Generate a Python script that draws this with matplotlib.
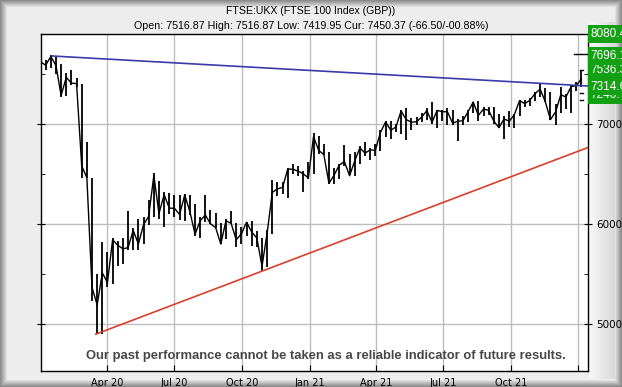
import matplotlib
matplotlib.use("Agg")
import matplotlib.pyplot as plt
import matplotlib.transforms as mtransforms
import numpy as np
import pandas as pd

# weekly bars, FTSE 100, week ending Fridays from 3 Jan 2020
week_end = pd.date_range("2020-01-03", periods=106, freq="W-FRI")

high = [7650, 7640, 7690, 7680, 7600, 7510, 7540, 7460, 7404, 6820,
        6460, 5500, 5820, 5720, 5860, 5830, 5860, 6130, 5960, 6050,
        6070, 6240, 6510, 6430, 6320, 6310, 6290, 6290, 6300, 6290,
        6200, 6070, 6290, 6140, 6110, 6010, 6050, 6130, 6010, 5970,
        6020, 6030, 5930, 5860, 5940, 6440, 6420, 6420, 6560, 6600,
        6580, 6530, 6620, 6910, 6880, 6800, 6720, 6560, 6600, 6790,
        6700, 6720, 6780, 6820, 6760, 6800, 6940, 7030, 7030, 7000,
        7140, 7160, 7060, 7070, 7110, 7160, 7220, 7140, 7140, 7160,
        7140, 7050, 7080, 7140, 7220, 7230, 7170, 7170, 7170, 7100,
        7080, 7130, 7100, 7240, 7240, 7260, 7320, 7410, 7360, 7320,
        7200, 7370, 7300, 7390, 7420, 7530]
low = [7560, 7540, 7560, 7500, 7270, 7280, 7390, 7370, 6460, 6460,
       5230, 4898, 4900, 5370, 5400, 5580, 5600, 5740, 5740, 5740,
       5800, 5990, 6070, 6050, 5970, 6100, 6070, 6040, 6030, 6090,
       5880, 5860, 6020, 6000, 5960, 5800, 5850, 6000, 5770, 5800,
       5880, 5780, 5770, 5530, 5570, 5900, 6280, 6300, 6260, 6500,
       6480, 6320, 6450, 6500, 6700, 6690, 6400, 6400, 6450, 6580,
       6490, 6480, 6600, 6680, 6640, 6680, 6730, 6870, 6850, 6920,
       6900, 6840, 6940, 6990, 7020, 7040, 7000, 6960, 7030, 6990,
       6990, 6830, 6990, 7020, 7110, 7030, 7080, 7090, 7000, 6960,
       6850, 6970, 6960, 7080, 7170, 7180, 7230, 7270, 7220, 7040,
       6990, 7110, 7150, 7110, 7330, 7370]
close = [7622, 7588, 7675, 7586, 7286, 7466, 7409, 7404, 6581, 6463,
         5366, 5191, 5510, 5416, 5843, 5787, 5752, 5763, 5936, 5800,
         5993, 6077, 6484, 6105, 6293, 6159, 6157, 6095, 6290, 6123,
         5898, 6032, 6090, 6002, 5964, 5800, 6032, 6007, 5843, 5902,
         6017, 5920, 5860, 5577, 5910, 6316, 6351, 6367, 6550, 6547,
         6529, 6502, 6461, 6873, 6736, 6695, 6407, 6489, 6589, 6624,
         6483, 6631, 6761, 6709, 6741, 6737, 6916, 7020, 6938, 6970,
         7130, 7044, 7018, 7023, 7069, 7134, 7017, 7136, 7123, 7122,
         7008, 7028, 7032, 7123, 7219, 7087, 7148, 7138, 7029, 6963,
         7051, 7027, 7095, 7234, 7204, 7237, 7304, 7348, 7223, 7044,
         7122, 7292, 7270, 7373, 7385, 7450]

support_dates = ["2020-03-16", "2022-01-14"]
support_values = [4898, 6765]
resist_dates = ["2020-01-17", "2022-01-14"]
resist_values = [7680, 7380]

# price levels on the right, drawn bottom to top of the stack
levels = [7240.7, 7450.3, 7314.6, 7536.3, 7696.1, 8080.4]
level_colors = ["#14a014", "#000000", "#14a014", "#14a014", "#14a014", "#14a014"]
level_nudge_px = [4.5, 0, 6, 0, -1.6, 0]

tick_dates = ["2020-04-01", "2020-07-01", "2020-10-01", "2021-01-01",
              "2021-04-01", "2021-07-01", "2021-10-01", "2022-01-01"]
tick_labels = ["Apr 20", "Jul 20", "Oct 20", "Jan 21", "Apr 21", "Jul 21", "Oct 21", ""]

title = "FTSE:UKX (FTSE 100 Index (GBP))"
subtitle = "Open: 7516.87 High: 7516.87 Low: 7419.95 Cur: 7450.37 (-66.50/-00.88%)"
disclaimer = "Our past performance cannot be taken as a reliable indicator of future results."

W, H = 622, 387
YMIN, YMAX = 4530, 7900
fig = plt.figure(figsize=(W / 100, H / 100), dpi=100)

# bevelled grey frame behind everything
bg = fig.add_axes([0, 0, 1, 1], zorder=0)
yy, xx = np.mgrid[0:H, 0:W]
d = np.minimum.reduce([xx, yy, W - 1 - xx, H - 1 - yy]).astype(float)
shade = np.where(d < 7, 0.55 + 0.38 * d / 7, 0.93)
panel = (xx >= 589) & (xx <= 614) & (yy >= 22) & (yy <= 378)
shade = np.where(panel, 0.97 - 0.12 * (xx - 589) / 25, shade)
bg.imshow(np.dstack([shade] * 3), aspect="auto", interpolation="nearest")
bg.axis("off")

ax = fig.add_axes([40.5 / W, 1 - 371 / H, (588 - 40.5) / W, (371 - 34) / H], zorder=2)
ax.set_facecolor("white")

x = week_end - pd.Timedelta(days=2)
ax.vlines(x, low, high, color="black", lw=1.3, zorder=3)
ax.plot(x, close, color="black", lw=1.0, zorder=3)

ax.plot(pd.to_datetime(support_dates), support_values, color="#d8402c", lw=1.2, zorder=4)
ax.plot(pd.to_datetime(resist_dates), resist_values, color="#3a3aa8", lw=1.2, zorder=4)

ax.set_xlim(pd.Timestamp("2020-01-01"), pd.Timestamp("2022-01-14"))
ax.set_ylim(YMIN, YMAX)

ax.set_xticks(pd.to_datetime(tick_dates))
ax.set_xticklabels(tick_labels)
ax.set_yticks([5000, 6000, 7000])
ax.set_yticks([5500, 6500, 7500], minor=True)
ax.grid(True, which="major", color="#bdbdbd", lw=1)
ax.set_axisbelow(True)
ax.tick_params(axis="x", direction="in", length=4, labelsize=7, pad=5)
ax.tick_params(axis="y", which="major", direction="inout", length=6,
               left=True, right=True, labelleft=False, labelright=True, labelsize=7.5, pad=3)
ax.tick_params(axis="y", which="minor", direction="in", length=3, left=True, right=True)
for s in ax.spines.values():
    s.set_color("black")
    s.set_linewidth(1)

# target marks and price labels at the right edge
trans = mtransforms.blended_transform_factory(ax.transAxes, ax.transData)
ax.plot([0.975, 1.0], [7696.1, 7696.1], color="black", lw=1, transform=trans, zorder=5)
for v in [7536.3, 7314.6, 7240.7]:
    ax.plot([0.985, 0.99], [v, v], color="black", lw=1, transform=trans, zorder=5)

for v, c, n in zip(levels, level_colors, level_nudge_px):
    ax.annotate(f"{v:.1f}", xy=(1.0, min(v, YMAX)), xycoords=trans, xytext=(2, n * 0.72),
                textcoords="offset points", va="center", ha="left", fontsize=8.5,
                color="white", family="Liberation Sans",
                bbox=dict(boxstyle="square,pad=0.22", fc=c, ec="none"),
                annotation_clip=False, zorder=6)

fig.text(0.5, 1 - 10.5 / H, title, ha="center", va="center", fontsize=7.6, family="Liberation Sans")
fig.text(0.5, 1 - 26 / H, subtitle, ha="center", va="center", fontsize=7.7, family="Liberation Sans")
ax.text(0.522, 0.045, disclaimer, transform=ax.transAxes, ha="center", va="center",
        fontsize=9.4, fontweight="bold", color="#474747", family="Liberation Sans", zorder=7)

fig.savefig("out.png", dpi=100)
